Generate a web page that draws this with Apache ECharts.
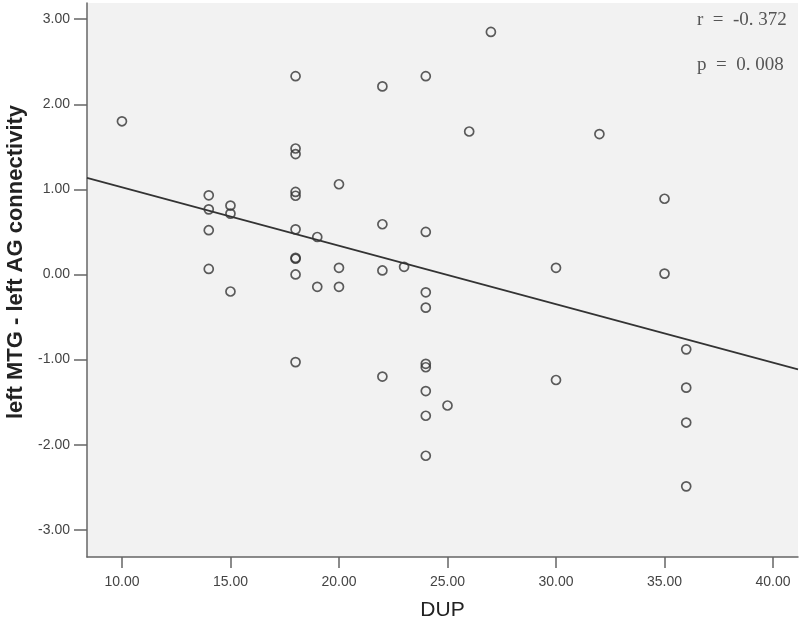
<!DOCTYPE html>
<html>
<head>
<meta charset="utf-8">
<script src="https://cdn.jsdelivr.net/npm/echarts@6/dist/echarts.min.js"></script>
<style>html,body{margin:0;padding:0;background:#fff;}#c{width:800px;height:631px;}</style>
</head>
<body>
<div id="c"></div>
<script>
// DUP (x) values of each participant
const dupValues = [10,14,14,14,14,15,15,15,18,18,18,18,18,18,18,18,18,18,19,19,20,20,20,22,22,22,22,23,24,24,24,24,24,24,24,24,24,25,26,27,30,30,32,35,35,36,36,36,36];
// left MTG - left AG connectivity (y) values
const connValues = [1.80,0.93,0.765,0.52,0.065,0.81,0.715,-0.20,2.33,1.48,1.415,0.97,0.925,0.53,0.195,0.185,0.00,-1.03,0.44,-0.145,1.06,0.078,-0.145,2.21,0.59,0.047,-1.20,0.09,2.33,0.50,-0.21,-0.39,-1.05,-1.09,-1.37,-1.66,-2.13,-1.54,1.68,2.85,0.078,-1.24,1.65,0.89,0.01,-0.88,-1.33,-1.74,-2.49];
const xTicks = [10,15,20,25,30,35,40];
const yTicks = [-3,-2,-1,0,1,2,3];
const xRange = [8.39, 41.15];
const yRange = [-3.32, 3.19];
const xTitle = 'DUP';
const yTitle = 'left MTG - left AG connectivity';
const statLines = ['r  =  -0. 372', 'p  =  0. 008'];

const points = dupValues.map((x, i) => [x, connValues[i]]);
// least-squares fit line
const n = points.length;
const mx = dupValues.reduce((a,b)=>a+b,0)/n;
const my = connValues.reduce((a,b)=>a+b,0)/n;
let sxy = 0, sxx = 0;
for (let i=0;i<n;i++){ sxy += (dupValues[i]-mx)*(connValues[i]-my); sxx += (dupValues[i]-mx)**2; }
const slope = sxy/sxx, intercept = my - slope*mx;
const fitLine = xRange.map(x => [x, intercept + slope*x]);

const chart = echarts.init(document.getElementById('c'), null, {renderer:'canvas'});
const font = 'Liberation Sans, Arial, sans-serif';
chart.setOption({
  animation: false,
  backgroundColor: '#ffffff',
  grid: {left: 87, right: 2, top: 3, bottom: 74, show: true, backgroundColor: '#f2f2f2', borderWidth: 0, outerBoundsMode: 'none', containLabel: false},
  xAxis: {
    type: 'value', min: xRange[0], max: xRange[1],
    name: xTitle, nameLocation: 'middle', nameGap: 43,
    nameTextStyle: {fontFamily: font, fontSize: 21, color: '#222'},
    axisLine: {show: true, onZero: false, lineStyle: {color: '#666', width: 1.5}},
    axisTick: {show: true, length: 11, customValues: xTicks, lineStyle: {color: '#666', width: 1.5}},
    axisLabel: {customValues: xTicks, margin: 18, fontFamily: font, fontSize: 14, color: '#444', formatter: v => v.toFixed(2)},
    splitLine: {show: false}
  },
  yAxis: {
    type: 'value', min: yRange[0], max: yRange[1],
    axisLine: {show: true, onZero: false, lineStyle: {color: '#666', width: 1.5}},
    axisTick: {show: true, length: 13, customValues: yTicks, lineStyle: {color: '#666', width: 1.5}},
    axisLabel: {customValues: yTicks, margin: 17, fontFamily: font, fontSize: 14, color: '#444', formatter: v => v.toFixed(2)},
    splitLine: {show: false}
  },
  series: [
    {
      type: 'line', data: fitLine, symbol: 'none', silent: true,
      lineStyle: {color: '#333', width: 1.6}, z: 2
    },
    {
      type: 'scatter', data: points, symbol: 'circle', symbolSize: 9,
      itemStyle: {color: 'rgba(0,0,0,0)', borderColor: '#333', borderWidth: 1.7}, z: 3
    }
  ],
  graphic: [
    {type: 'text', x: 16, y: 262, rotation: Math.PI/2,
     style: {text: yTitle, font: 'bold 22px "Liberation Sans", Arial, sans-serif', fill: '#222', align: 'center', verticalAlign: 'middle'}},
    {type: 'text', left: 697, top: 11, style: {text: statLines[0], font: '19px "Liberation Serif", serif', fill: '#555'}},
    {type: 'text', left: 697, top: 56, style: {text: statLines[1], font: '19px "Liberation Serif", serif', fill: '#555'}}
  ]
});
</script>
</body>
</html>
